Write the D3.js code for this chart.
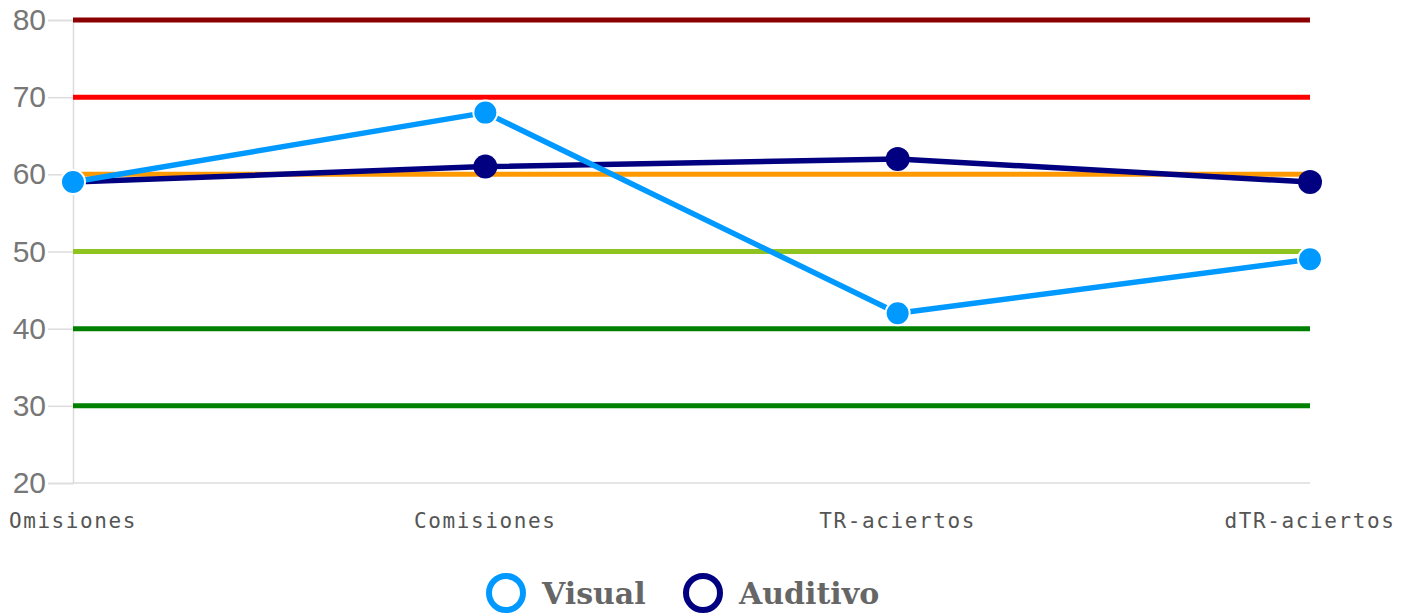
<!DOCTYPE html>
<html>
<head>
<meta charset="utf-8">
<script src="https://cdn.jsdelivr.net/npm/d3@7"></script>
<style>
  html, body { margin: 0; padding: 0; background: #fff; }
  svg { display: block; }
</style>
</head>
<body>
<script>
// chart data
const categories = ["Omisiones", "Comisiones", "TR-aciertos", "dTR-aciertos"];
const visual = [59, 68, 42, 49];
const auditivo = [59, 61, 62, 59];
const yTicks = [20, 30, 40, 50, 60, 70, 80];
const refValues = [80, 70, 60, 50, 40, 30];
const refColors = ["#8b0000", "#ff0000", "#ff9900", "#8fc31f", "#008000", "#008000"];
const seriesNames = ["Visual", "Auditivo"];
const seriesColors = ["#0099ff", "#000080"];

const width = 1415, height = 616;
const plotLeft = 73, plotRight = 1310, plotTop = 20, plotBottom = 483;

const svg = d3.select("body").append("svg")
  .attr("width", width)
  .attr("height", height);

const x = d3.scalePoint()
  .domain(categories)
  .range([plotLeft, plotRight]);

const y = d3.scaleLinear()
  .domain([20, 80])
  .range([plotBottom, plotTop]);

// y axis
const yAxis = svg.append("g")
  .attr("transform", `translate(${plotLeft},0)`)
  .call(d3.axisLeft(y).tickValues(yTicks).tickSize(25).tickPadding(2));
yAxis.select(".domain").attr("stroke", "#dcdcdc").attr("stroke-width", 1.5);
yAxis.selectAll(".tick line").attr("stroke", "#dcdcdc").attr("stroke-width", 1.5);
yAxis.selectAll(".tick text")
  .attr("fill", "#777")
  .style("font-family", "Arial, 'Liberation Sans', sans-serif")
  .style("font-size", "30px");

// x axis baseline
svg.append("line")
  .attr("x1", plotLeft).attr("x2", plotRight)
  .attr("y1", y(20)).attr("y2", y(20))
  .attr("stroke", "#dcdcdc").attr("stroke-width", 1.5);

// x labels
svg.append("g")
  .selectAll("text")
  .data(categories)
  .join("text")
  .attr("x", d => x(d))
  .attr("y", 528)
  .attr("text-anchor", "middle")
  .attr("fill", "#555")
  .style("font-family", "'DejaVu Sans Mono', monospace")
  .style("font-size", "21px")
  .style("letter-spacing", "1.6px")
  .text(d => d);

// reference lines
svg.append("g")
  .selectAll("line")
  .data(refValues)
  .join("line")
  .attr("x1", plotLeft).attr("x2", plotRight)
  .attr("y1", d => y(d)).attr("y2", d => y(d))
  .attr("stroke", (d, i) => refColors[i])
  .attr("stroke-width", 5);

const line = d3.line()
  .x((d, i) => x(categories[i]))
  .y(d => y(d));

// Auditivo first, Visual on top
const series = [
  { name: "Auditivo", values: auditivo, color: seriesColors[1], outline: "none" },
  { name: "Visual", values: visual, color: seriesColors[0], outline: "#fff" }
];

series.forEach(s => {
  svg.append("path")
    .datum(s.values)
    .attr("fill", "none")
    .attr("stroke", s.color)
    .attr("stroke-width", 5.5)
    .attr("stroke-linejoin", "round")
    .attr("d", line);

  svg.append("g")
    .selectAll("circle")
    .data(s.values)
    .join("circle")
    .attr("cx", (d, i) => x(categories[i]))
    .attr("cy", d => y(d))
    .attr("r", 12)
    .attr("fill", s.color)
    .attr("stroke", s.outline)
    .attr("stroke-width", 2);
});

// legend
const legendX = [506, 703];
const legend = svg.append("g")
  .selectAll("g")
  .data(seriesNames)
  .join("g")
  .attr("transform", (d, i) => `translate(${legendX[i]},593)`);

legend.append("circle")
  .attr("r", 17)
  .attr("fill", "none")
  .attr("stroke", (d, i) => seriesColors[i])
  .attr("stroke-width", 6);

legend.append("text")
  .attr("x", 36)
  .attr("y", 11)
  .attr("fill", "#666")
  .style("font-family", "'DejaVu Serif', serif")
  .style("font-weight", "bold")
  .style("font-size", "30px")
  .text(d => d);
</script>
</body>
</html>
